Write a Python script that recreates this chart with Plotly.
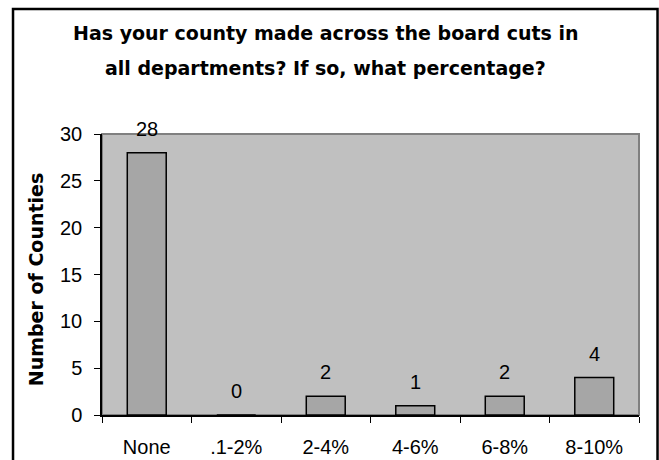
import plotly.graph_objects as go

categories = ["None", ".1-2%", "2-4%", "4-6%", "6-8%", "8-10%"]
counts = [28, 0, 2, 1, 2, 4]
y_ticks = [0, 5, 10, 15, 20, 25, 30]
title_line1 = "Has your county made across the board cuts in"
title_line2 = "all departments? If so, what percentage?"
y_title = "Number of Counties"

REG = "Liberation Sans, Arial, sans-serif"
BOLD = "DejaVu Sans, sans-serif"

fig = go.Figure()
fig.add_trace(go.Bar(
    x=categories, y=counts,
    marker=dict(color="#A6A6A6", line=dict(color="black", width=1.5)),
    hoverinfo="skip",
))

annotations = []
for c, v in zip(categories, counts):
    annotations.append(dict(
        x=c, y=v, xref="x", yref="y", text=str(v), showarrow=False,
        yanchor="middle", yshift=24, font=dict(family=REG, size=20, color="black"),
    ))

annotations += [
    dict(x=0.4165, y=1.358, xref="paper", yref="paper", text="<b>" + title_line1 + "</b>",
         showarrow=False, xanchor="center", yanchor="middle",
         font=dict(family=BOLD, size=19, color="black")),
    dict(x=0.4165, y=1.234, xref="paper", yref="paper", text="<b>" + title_line2 + "</b>",
         showarrow=False, xanchor="center", yanchor="middle",
         font=dict(family=BOLD, size=19, color="black")),
    dict(x=-0.123, y=0.483, xref="paper", yref="paper", text="<b>" + y_title + "</b>",
         showarrow=False, textangle=-90, xanchor="center", yanchor="middle",
         font=dict(family=BOLD, size=19, color="black")),
]

shapes = [
    dict(type="rect", xref="paper", yref="paper", x0=0, x1=1, y0=0, y1=1,
         line=dict(color="#808080", width=2), layer="below"),
    dict(type="rect", xref="paper", yref="paper", x0=-0.1657, x1=1.0345, y0=-0.196, y1=1.4448,
         line=dict(color="black", width=2.5), layer="above"),
]

fig.update_layout(
    width=659, height=460,
    margin=dict(l=102, r=20, t=134, b=45, autoexpand=False),
    paper_bgcolor="white", plot_bgcolor="#C0C0C0",
    showlegend=False, bargap=0.565,
    annotations=annotations, shapes=shapes,
    font=dict(family=REG, size=20, color="black"),
)
fig.update_xaxes(
    type="category", tickson="boundaries", ticks="outside", ticklen=6, tickwidth=1,
    tickcolor="black", showline=True, linecolor="black", linewidth=1.5,
    showgrid=False, zeroline=False, ticklabelstandoff=13, automargin=False,
    tickfont=dict(family=REG, size=20, color="black"),
)
fig.update_yaxes(
    range=[0, 30], tickvals=y_ticks, ticks="outside", ticklen=6, tickwidth=1,
    tickcolor="black", showline=True, linecolor="black", linewidth=1.5,
    showgrid=False, zeroline=False, ticklabelstandoff=8, automargin=False,
    tickfont=dict(family=REG, size=20, color="black"),
)

fig.write_html(
    "out.html",
    config={"displayModeBar": False},
    post_script="document.body.style.margin='0';document.body.style.overflow='hidden';",
)
